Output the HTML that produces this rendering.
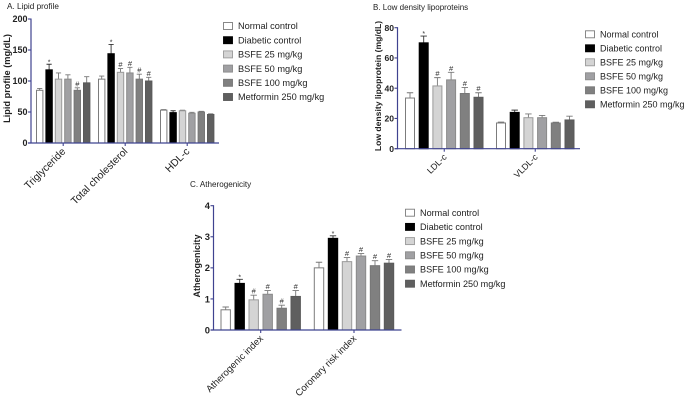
<!DOCTYPE html>
<html>
<head>
<meta charset="utf-8">
<title>Lipid profile, low density lipoproteins and atherogenicity</title>
<style>
html,body{margin:0;padding:0;background:#fff;width:685px;height:400px;overflow:hidden}
svg{display:block;filter:blur(0.35px)}
text{font-family:"Liberation Sans",Arial,sans-serif;fill:#222}
</style>
</head>
<body>
<svg id="figure" width="685" height="400" viewBox="0 0 685 400" xmlns="http://www.w3.org/2000/svg">
<text x="7" y="9" font-size="8.2">A. Lipid profile</text>
<text x="373" y="10" font-size="8">B. Low density lipoproteins</text>
<text x="190" y="187" font-size="8.1">C. Atherogenicity</text>
</svg>
<script>
const seriesNames = ['Normal control','Diabetic control','BSFE 25 mg/kg','BSFE 50 mg/kg','BSFE 100 mg/kg','Metformin 250 mg/kg'];

const categoriesA = ['Triglyceride','Total cholesterol','HDL-c'];
const ticksA = [0,50,100,150,200];
const meansA = [[85,118,103,103,85,97],[103,144,114,113,103,100],[53,49,52,48,50,46]];
const errorsA = [[3,9,10,7,4,10],[5,15,6,9,8,6],[1,3,1,1.5,1,1]];
const marksA = [['','*','','','#',''],['','*','#','#','#','#'],['','','','','','']];

const categoriesB = ['LDL-c','VLDL-c'];
const ticksB = [0,20,40,60,80];
const meansB = [[33.5,70,41.5,45.5,36.5,34],[17,24,20.5,20.5,17,19]];
const errorsB = [[3.5,4.5,5.5,5,4,3],[0.6,1.5,2.5,1.5,0.5,2.5]];
const marksB = [['','*','#','#','#','#'],['','','','','','']];

const categoriesC = ['Atherogenic index','Coronary risk index'];
const ticksC = [0,1,2,3,4];
const meansC = [[0.65,1.5,0.97,1.15,0.7,1.08],[2,2.95,2.2,2.38,2.07,2.15]];
const errorsC = [[0.09,0.13,0.15,0.12,0.1,0.19],[0.18,0.08,0.13,0.08,0.16,0.12]];
const marksC = [['','*','#','#','#','#'],['','*','#','#','#','#']];

const fills = ['#ffffff','#000000','#d4d4d4','#a0a0a3','#808080','#5f5f5f'];
const strokes = ['#7c7c7c','#000000','#9a9a9a','#8a8a8a','#777777','#5a5a5a'];
const axisColor = '#3f4390';
const svg = document.getElementById('figure');

function mk(tag, attrs, text) {
  const el = document.createElementNS('http://www.w3.org/2000/svg', tag);
  for (const k in attrs) el.setAttribute(k, attrs[k]);
  if (text !== undefined) el.textContent = text;
  return el;
}

function drawPanel(id, cfg, categories, ticks, means, errors, marks) {
  const g = mk('g', {});
  
  
  svg.appendChild(g);
  const maxTick = ticks[ticks.length - 1];
  const yScale = v => cfg.y0 - (v / maxTick) * (cfg.y0 - cfg.yTop);
  const xScale = (c, s) => cfg.start + c * cfg.groupGap + s * cfg.step;

  means.forEach((groupVals, c) => {
    groupVals.forEach((v, s) => {
      const cx = xScale(c, s);
      const top = yScale(v);
      const errTop = yScale(v + errors[c][s]);
      const eb = mk('path', {d:'M' + cx + ' ' + top + 'V' + errTop + 'M' + (cx - cfg.cap) + ' ' + errTop + 'H' + (cx + cfg.cap), stroke:s === 1 ? '#333' : '#777', 'stroke-width':0.9, fill:'none'});
      
      
      g.appendChild(eb);
      const bar = mk('rect', {x:cx - cfg.barW / 2, y:top, width:cfg.barW, height:cfg.y0 - top, fill:fills[s], stroke:strokes[s], 'stroke-width':1});
      
      
      g.appendChild(bar);
      if (marks[c][s]) {
        const star = marks[c][s] === '*';
        const m = mk('text', {x:cx, y:errTop - (star ? 0 : 1.5), 'font-size':star ? 7 : 7.5, 'text-anchor':'middle', style:'fill:#333'}, marks[c][s]);
        
        
        g.appendChild(m);
      }
    });
  });

  const yAxis = mk('line', {x1:cfg.x0, x2:cfg.x0, y1:cfg.yTop - 0.5, y2:cfg.y0 + 0.5, stroke:axisColor, 'stroke-width':1.2});
  
  
  g.appendChild(yAxis);
  const xAxis = mk('line', {x1:cfg.x0 - 3, x2:cfg.xEnd, y1:cfg.y0, y2:cfg.y0, stroke:axisColor, 'stroke-width':1.2});
  
  
  g.appendChild(xAxis);

  ticks.forEach(t => {
    const y = yScale(t);
    const tick = mk('line', {x1:cfg.x0 - 3, x2:cfg.x0, y1:y, y2:y, stroke:axisColor, 'stroke-width':1.1});
    
    
    g.appendChild(tick);
    const label = mk('text', {x:cfg.x0 - 3.5, y:y + cfg.tickFont * 0.36, 'font-size':cfg.tickFont, 'font-weight':'bold', 'text-anchor':'end'}, t);
    
    
    g.appendChild(label);
  });

  categories.forEach((name, c) => {
    const cx = (xScale(c, 0) + xScale(c, 5)) / 2;
    const tick = mk('line', {x1:cx, x2:cx, y1:cfg.y0, y2:cfg.y0 + 3, stroke:axisColor, 'stroke-width':1.1});
    
    
    g.appendChild(tick);
    const lx = cx + 3;
    const ly = cfg.y0 + 9;
    const label = mk('text', {x:lx, y:ly, 'font-size':cfg.catFont, 'text-anchor':'end', transform:'rotate(-45 ' + lx + ' ' + ly + ')'}, name);
    
    
    g.appendChild(label);
  });

  const ty = (cfg.titleTop + cfg.titleBottom) / 2;
  const title = mk('text', {x:cfg.titleX, y:ty, 'font-size':cfg.titleFont, 'font-weight':'bold', 'text-anchor':'middle', transform:'rotate(-90 ' + cfg.titleX + ' ' + ty + ')'}, cfg.title);
  
  
  g.appendChild(title);

  seriesNames.forEach((name, s) => {
    const y = cfg.legendY + s * cfg.legendStep;
    const swatch = mk('rect', {x:cfg.legendX, y:y - 3.5, width:9, height:7, fill:fills[s], stroke:strokes[s], 'stroke-width':0.9});
    
    
    g.appendChild(swatch);
    const label = mk('text', {x:cfg.legendX + 14.5, y:y + 3.2, 'font-size':cfg.legendFont}, name);
    
    
    g.appendChild(label);
  });
}

drawPanel('lipid-profile', {x0:31, xEnd:219, y0:143, yTop:19, start:39.7, groupGap:62, step:9.4, barW:6.4, cap:2.6, tickFont:9, catFont:10.4, titleX:10, titleTop:35, titleBottom:122, titleFont:9.2, title:'Lipid profile (mg/dL)', legendX:223.5, legendY:26, legendStep:14.2, legendFont:9.2}, categoriesA, ticksA, meansA, errorsA, marksA);

drawPanel('low-density-lipoproteins', {x0:397.5, xEnd:580, y0:148.7, yTop:27.7, start:410, groupGap:91, step:13.7, barW:9, cap:3.2, tickFont:8.6, catFont:8.8, titleX:381, titleTop:25, titleBottom:147, titleFont:8.6, title:'Low density lipoprotein (mg/dL)', legendX:585.5, legendY:34.3, legendStep:14, legendFont:9}, categoriesB, ticksB, meansB, errorsB, marksB);

drawPanel('atherogenicity', {x0:213.5, xEnd:401.5, y0:330, yTop:205.7, start:225.7, groupGap:93.3, step:14, barW:9.4, cap:3.2, tickFont:9.4, catFont:9.5, titleX:200, titleTop:235, titleBottom:297, titleFont:9, title:'Atherogenicity', legendX:405.5, legendY:212.7, legendStep:14.2, legendFont:9.1}, categoriesC, ticksC, meansC, errorsC, marksC);
</script>
</body>
</html>
